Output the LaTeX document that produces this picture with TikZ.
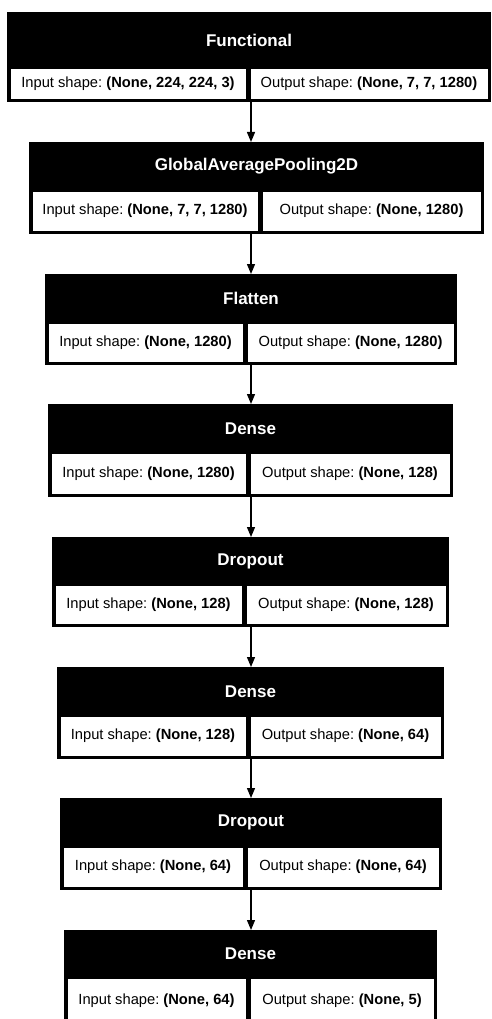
\documentclass[tikz,border=0pt]{standalone}
\usepackage{fontspec}
\setmainfont{Liberation Sans}
\usetikzlibrary{arrows.meta}
\tikzset{
  outerbox/.style={rectangle, fill=black, draw=none, inner sep=0pt, outer sep=0pt},
  hdrtext/.style={text=white, font=\fontsize{17}{20}\selectfont\bfseries, inner sep=0pt},
  cellbox/.style={rectangle, fill=white, draw=black, line width=0.6pt, inner sep=0pt, outer sep=0pt,
    font=\fontsize{14.7}{17}\selectfont\frenchspacing},
  arr/.style={line width=1.3pt, -{Triangle[length=10pt,width=8pt]}},
}
\newcommand{\mkblock}[7]{%
  \def\bn{#1}\def\xa{#2}\def\xb{#3}\def\ya{#4}\def\yh{#5}\def\yc{#6}\def\xd{#7}%
  \mkblocktext}
\newcommand{\mkblocktext}[3]{%
  \pgfmathsetmacro\bw{\xb-\xa}%
  \pgfmathsetmacro\bh{\yc+3-\ya}%
  \pgfmathsetmacro\cx{(\xa+\xb)/2}%
  \pgfmathsetmacro\hy{(\ya+\yh)/2}%
  \pgfmathsetmacro\lw{\xd-2-\xa-3}%
  \pgfmathsetmacro\rw{\xb-3-\xd-2}%
  \pgfmathsetmacro\ch{\yc-\yh}%
  \pgfmathsetmacro\lx{\xa+3}%
  \pgfmathsetmacro\rx{\xd+2}%
  \node[outerbox, minimum width=\bw pt, minimum height=\bh pt, anchor=north west] (\bn) at (\xa pt,-\ya pt) {};
  \node[hdrtext] (\bn t) at (\cx pt,-\hy pt) {#1};
  \node[cellbox, minimum width=\lw pt, minimum height=\ch pt, anchor=north west] (\bn i) at (\lx pt,-\yh pt) {#2};
  \node[cellbox, minimum width=\rw pt, minimum height=\ch pt, anchor=north west] (\bn o) at (\rx pt,-\yh pt) {#3};
}
\frenchspacing
\begin{document}
\begin{tikzpicture}
\useasboundingbox[fill=white] (0,0) rectangle (492pt,-1019pt);
\coordinate (ax) at (251pt,0);
\mkblock{b1}{7}{491}{12}{68}{99}{248}{Functional}{Input shape: \textbf{(None, 224, 224, 3)}}{Output shape: \textbf{(None, 7, 7, 1280)}}
\mkblock{b2}{29}{484}{142}{191}{231}{260}{GlobalAveragePooling2D}{Input shape: \textbf{(None, 7, 7, 1280)}}{Output shape: \textbf{(None, 1280)}}
\mkblock{b3}{45}{457}{274}{323}{362}{245}{Flatten}{Input shape: \textbf{(None, 1280)}}{Output shape: \textbf{(None, 1280)}}
\mkblock{b4}{48}{453}{404}{453}{494}{248}{Dense}{Input shape: \textbf{(None, 1280)}}{Output shape: \textbf{(None, 128)}}
\mkblock{b5}{52}{449}{537}{585}{624}{244}{Dropout}{Input shape: \textbf{(None, 128)}}{Output shape: \textbf{(None, 128)}}
\mkblock{b6}{57}{444}{667}{716}{756}{248}{Dense}{Input shape: \textbf{(None, 128)}}{Output shape: \textbf{(None, 64)}}
\mkblock{b7}{60}{442}{798}{847}{887}{245}{Dropout}{Input shape: \textbf{(None, 64)}}{Output shape: \textbf{(None, 64)}}
\mkblock{b8}{64}{437}{930}{978}{1024}{248}{Dense}{Input shape: \textbf{(None, 64)}}{Output shape: \textbf{(None, 5)}}
\foreach \a/\b in {b1/b2,b2/b3,b3/b4,b4/b5,b5/b6,b6/b7,b7/b8}{
  \draw[arr] (\a.south -| ax) -- (\b.north -| ax);
}
\end{tikzpicture}
\end{document}
